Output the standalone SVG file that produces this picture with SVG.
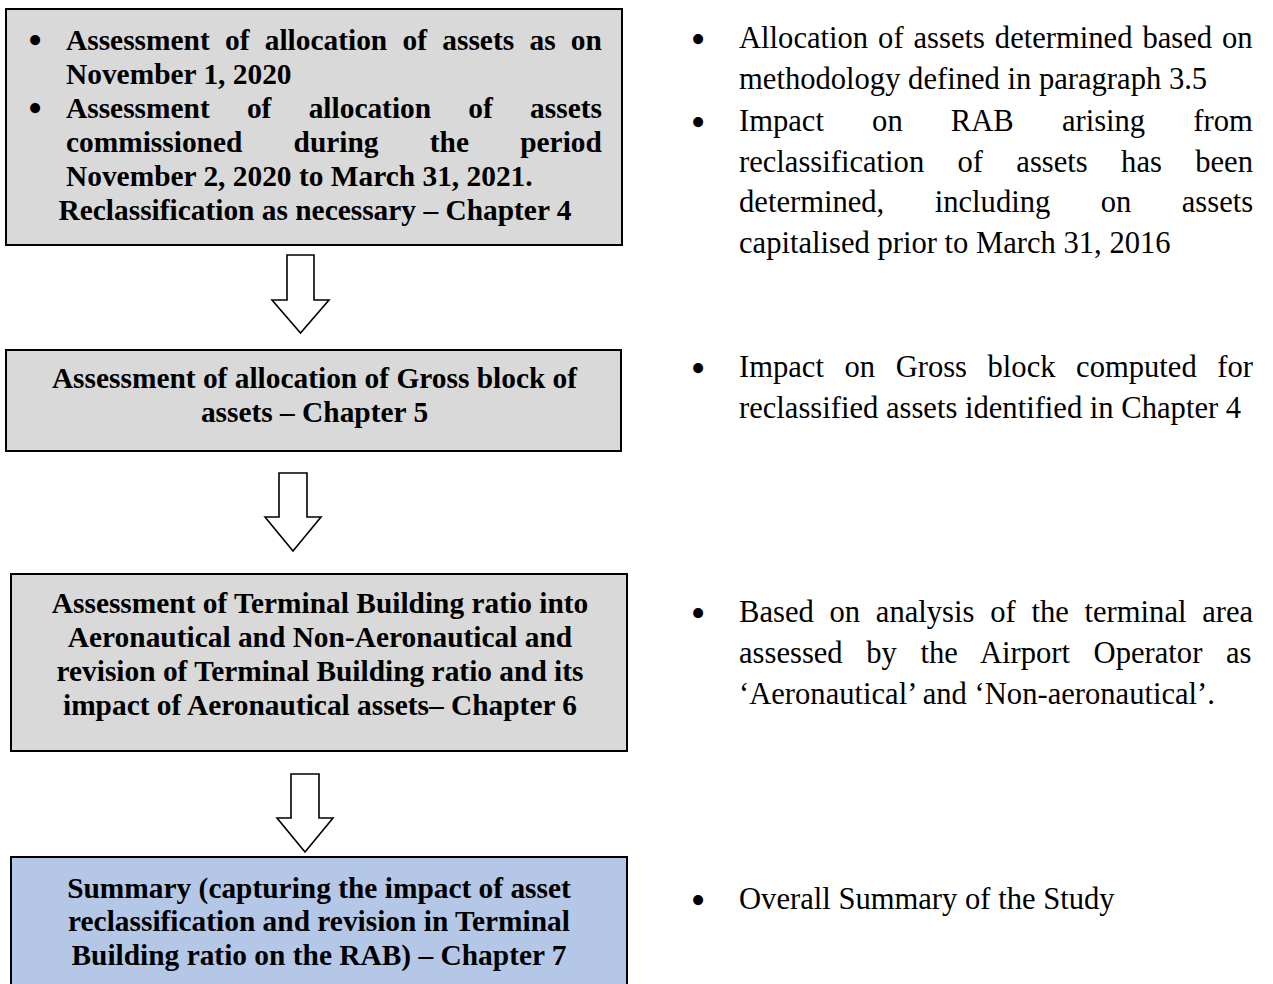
<svg xmlns="http://www.w3.org/2000/svg" width="1273" height="984" viewBox="0 0 1273 984">
<style>
.box{stroke:#000;stroke-width:2}
.gray{fill:#D9D9D9}
.blue{fill:#B4C7E7}
.b{font-family:"Liberation Serif","Times New Roman",serif;font-weight:bold;font-size:29.4px;fill:#000}
.r{font-family:"Liberation Serif","Times New Roman",serif;font-size:30.6px;fill:#000}
.bul{font-family:"Liberation Serif","Times New Roman",serif;font-size:42px;fill:#000;text-anchor:middle}
.m{text-anchor:middle}
.arrow{fill:#fff;stroke:#000;stroke-width:1.6;stroke-linejoin:miter}
</style>
<rect width="1273" height="984" fill="#fff"/>
<g id="node1">
<rect class="box gray" x="6" y="9" width="616" height="236"/>
<text class="bul" x="35" y="54">•</text>
<text class="b" x="66" y="50" word-spacing="7.95">Assessment of allocation of assets as on</text>
<text class="b" x="66" y="84">November 1, 2020</text>
<text class="bul" x="35" y="122">•</text>
<text class="b" x="66" y="118" word-spacing="29.9">Assessment of allocation of assets</text>
<text class="b" x="66" y="152" word-spacing="43.9">commissioned during the period</text>
<text class="b" x="66" y="186">November 2, 2020 to March 31, 2021.</text>
<text class="b m" x="315" y="220">Reclassification as necessary – Chapter 4</text>
</g>
<g id="node2">
<rect class="box gray" x="6" y="350" width="615" height="101"/>
<text class="b m" x="314.5" y="388">Assessment of allocation of Gross block of</text>
<text class="b m" x="314.5" y="422">assets – Chapter 5</text>
</g>
<g id="node3">
<rect class="box gray" x="11" y="574" width="616" height="177"/>
<text class="b m" x="320" y="613">Assessment of Terminal Building ratio into</text>
<text class="b m" x="320" y="647">Aeronautical and Non-Aeronautical and</text>
<text class="b m" x="320" y="681">revision of Terminal Building ratio and its</text>
<text class="b m" x="320" y="715">impact of Aeronautical assets– Chapter 6</text>
</g>
<g id="node4">
<rect class="box blue" x="11" y="857" width="616" height="140"/>
<text class="b m" x="319" y="898">Summary (capturing the impact of asset</text>
<text class="b m" x="319" y="931">reclassification and revision in Terminal</text>
<text class="b m" x="319" y="965">Building ratio on the RAB) – Chapter 7</text>
</g>
<g id="connectors">
<polygon class="arrow" points="287,255 314,255 314,300 329,300 300.5,333 272,300 287,300"/>
<polygon class="arrow" points="279,473 307,473 307,517 321,517 293,551 265,517 279,517"/>
<polygon class="arrow" points="291,774 319,774 319,818 333,818 305,852 277,818 291,818"/>
</g>
<g id="notes">
<text class="bul" x="698" y="53">•</text>
<text class="r" x="739" y="48" word-spacing="2.3">Allocation of assets determined based on</text>
<text class="r" x="739" y="89">methodology defined in paragraph 3.5</text>
<text class="bul" x="698" y="136">•</text>
<text class="r" x="739" y="131" word-spacing="40.5">Impact on RAB arising from</text>
<text class="r" x="739" y="172" word-spacing="25.7">reclassification of assets has been</text>
<text class="r" x="739" y="212" word-spacing="42.8">determined, including on assets</text>
<text class="r" x="739" y="253">capitalised prior to March 31, 2016</text>
<text class="bul" x="698" y="382">•</text>
<text class="r" x="739" y="377" word-spacing="12.9">Impact on Gross block computed for</text>
<text class="r" x="739" y="418">reclassified assets identified in Chapter 4</text>
<text class="bul" x="698" y="627">•</text>
<text class="r" x="739" y="622" word-spacing="8.1">Based on analysis of the terminal area</text>
<text class="r" x="739" y="663" word-spacing="16">assessed by the Airport Operator as</text>
<text class="r" x="739" y="704">‘Aeronautical’ and ‘Non-aeronautical’.</text>
<text class="bul" x="698" y="914">•</text>
<text class="r" x="739" y="909">Overall Summary of the Study</text>
</g>
</svg>
